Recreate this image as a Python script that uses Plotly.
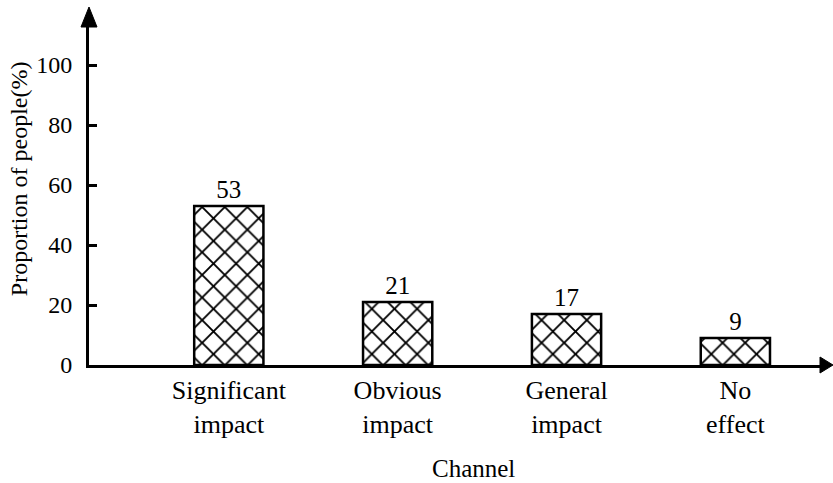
import plotly.graph_objects as go

categories = ["Significant<br>impact", "Obvious<br>impact", "General<br>impact", "No<br>effect"]
values = [53, 21, 17, 9]
y_ticks = [0, 20, 40, 60, 80, 100]
x_title = "Channel"
y_title = "Proportion of people(%)"

FONT = "Liberation Serif"

fig = go.Figure()
fig.add_trace(go.Bar(
    x=categories,
    y=values,
    text=[str(v) for v in values],
    textposition="outside",
    textfont=dict(family=FONT, size=25, color="black"),
    cliponaxis=False,
    width=0.41,
    marker=dict(
        color="white",
        line=dict(color="black", width=2.5),
        pattern=dict(shape="x", fgcolor="black", bgcolor="white", size=16, solidity=0.22),
    ),
))

fig.update_layout(
    template="none",
    width=833, height=483,
    margin=dict(l=89, r=11, t=26, b=118, pad=0),
    paper_bgcolor="white", plot_bgcolor="white",
    showlegend=False,
    font=dict(family=FONT, size=25, color="black"),
    xaxis=dict(
        type="category",
        range=[-0.828, 3.513],
        automargin=False,
        showline=True, linecolor="black", linewidth=3,
        ticks="", showgrid=False, zeroline=False,
        ticklabelstandoff=0,
        tickfont=dict(family=FONT, size=26, color="black"),
    ),
    yaxis=dict(
        range=[0, 113],
        tickvals=y_ticks,
        automargin=False,
        showline=True, linecolor="black", linewidth=3,
        ticks="inside", ticklen=8, tickwidth=3, tickcolor="black",
        showgrid=False, zeroline=False,
        ticklabelstandoff=9,
        tickfont=dict(family=FONT, size=24, color="black"),
    ),
    annotations=[
        dict(text=x_title, xref="paper", yref="paper", x=0.525, y=-0.304,
             xanchor="center", yanchor="middle", showarrow=False,
             font=dict(family=FONT, size=25, color="black")),
        dict(text=y_title, xref="paper", yref="paper", x=-0.096, y=0.55,
             xanchor="center", yanchor="middle", showarrow=False, textangle=-90,
             font=dict(family=FONT, size=24, color="black")),
    ],
    shapes=[
        dict(type="path", xref="paper", yref="paper", xsizemode="pixel", ysizemode="pixel",
             xanchor=0, yanchor=1, path="M -8,-1 L 8,-1 L 0,19 Z",
             fillcolor="black", line=dict(color="black", width=1)),
        dict(type="path", xref="paper", yref="paper", xsizemode="pixel", ysizemode="pixel",
             xanchor=1, yanchor=0, path="M -2,8 L -2,-8 L 11,0 Z",
             fillcolor="black", line=dict(color="black", width=1)),
    ],
)

fig.write_html(
    "out.html",
    config={"displayModeBar": False},
    post_script="document.body.style.margin='0';document.body.style.overflow='hidden';",
)
